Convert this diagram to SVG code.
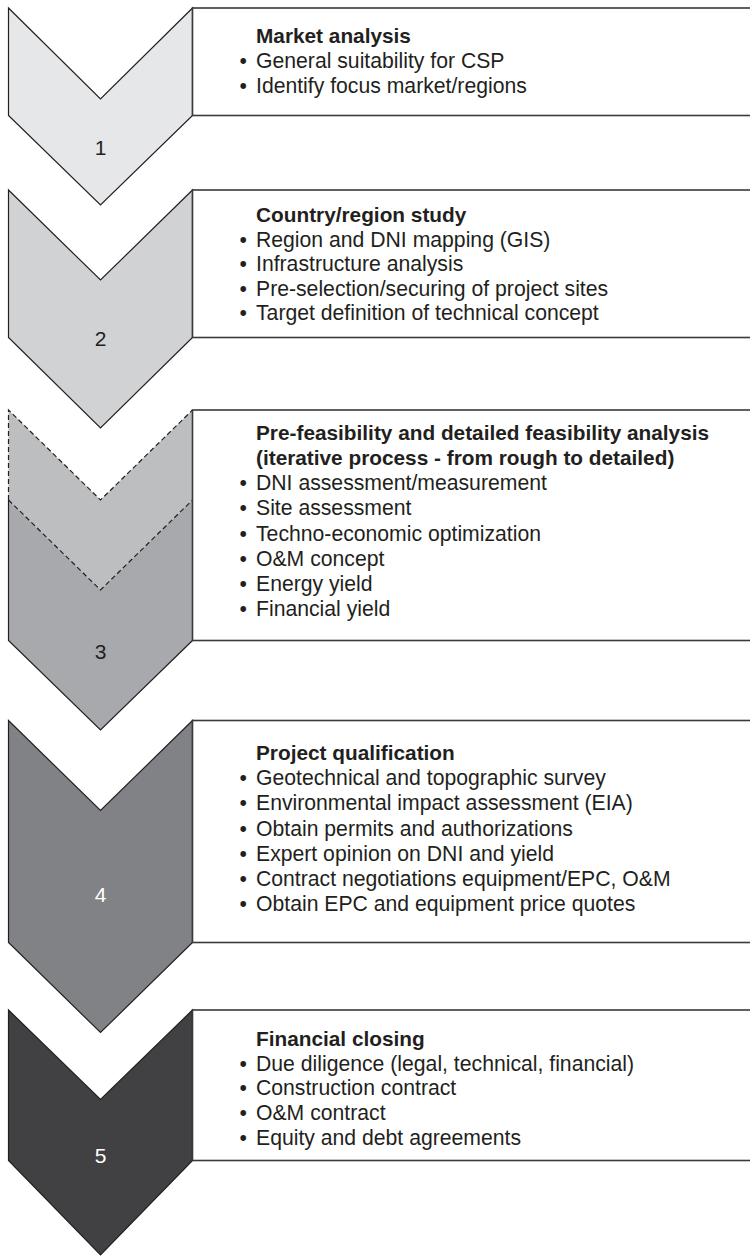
<svg xmlns="http://www.w3.org/2000/svg" width="750" height="1259" viewBox="0 0 750 1259">
<style>
.chev{stroke:#231f20;stroke-width:1.2;stroke-linejoin:miter}
.dash{fill:none;stroke:#231f20;stroke-width:1.2;stroke-dasharray:5,3}
.box{fill:#ffffff;stroke:#3a3a3a;stroke-width:1.6}
.t{font-family:"Liberation Sans",Arial,sans-serif;font-size:21.2px;fill:#231f20}
.h{font-weight:bold;font-size:20.8px}
.num{font-family:"Liberation Sans",Arial,sans-serif;font-size:21px;text-anchor:middle}
</style>
<rect width="750" height="1259" fill="#ffffff"/>
<g id="step1">
<polygon class="chev" fill="#e6e7e8" points="8.5,8 100.5,99 192.5,8 192.5,115.5 100.5,205 8.5,115.5"/>
<rect class="box" x="192.5" y="8" width="570" height="107.5"/>
<text class="num" x="100.5" y="155" fill="#231f20">1</text>
<text class="t h" x="256" y="42.7">Market analysis</text>
<text class="t" x="239.5" y="67.7">•</text><text class="t" x="256" y="67.7">General suitability for CSP</text>
<text class="t" x="239.5" y="92.7">•</text><text class="t" x="256" y="92.7">Identify focus market/regions</text>
</g>
<g id="step2">
<polygon class="chev" fill="#d1d2d4" points="8.5,190 100.5,280 192.5,190 192.5,337.5 100.5,428 8.5,337.5"/>
<rect class="box" x="192.5" y="190" width="570" height="147.5"/>
<text class="num" x="100.5" y="346" fill="#231f20">2</text>
<text class="t h" x="256" y="222">Country/region study</text>
<text class="t" x="239.5" y="246.5">•</text><text class="t" x="256" y="246.5">Region and DNI mapping (GIS)</text>
<text class="t" x="239.5" y="271">•</text><text class="t" x="256" y="271">Infrastructure analysis</text>
<text class="t" x="239.5" y="295.5">•</text><text class="t" x="256" y="295.5">Pre-selection/securing of project sites</text>
<text class="t" x="239.5" y="320">•</text><text class="t" x="256" y="320">Target definition of technical concept</text>
</g>
<g id="step3">
<polygon fill="#bcbec0" points="8.5,410 100.5,500 192.5,410 192.5,500 100.5,590 8.5,500"/>
<polygon fill="#a7a9ac" points="8.5,500 100.5,590 192.5,500 192.5,640.5 100.5,730 8.5,640.5"/>
<polyline class="dash" points="8.5,500 8.5,410 100.5,500 192.5,410"/>
<polyline class="dash" points="8.5,500 100.5,590 192.5,500"/>
<polyline fill="none" stroke="#231f20" stroke-width="1.2" points="8.5,500 8.5,640.5 100.5,730 192.5,640.5"/>
<rect class="box" x="192.5" y="410" width="570" height="230.5"/>
<text class="num" x="100.5" y="658.5" fill="#231f20">3</text>
<text class="t h" x="256" y="440">Pre-feasibility and detailed feasibility analysis</text>
<text class="t h" x="256" y="465">(iterative process - from rough to detailed)</text>
<text class="t" x="239.5" y="490.2">•</text><text class="t" x="256" y="490.2">DNI assessment/measurement</text>
<text class="t" x="239.5" y="515.4">•</text><text class="t" x="256" y="515.4">Site assessment</text>
<text class="t" x="239.5" y="540.6">•</text><text class="t" x="256" y="540.6">Techno-economic optimization</text>
<text class="t" x="239.5" y="565.8">•</text><text class="t" x="256" y="565.8">O&amp;M concept</text>
<text class="t" x="239.5" y="591">•</text><text class="t" x="256" y="591">Energy yield</text>
<text class="t" x="239.5" y="616.2">•</text><text class="t" x="256" y="616.2">Financial yield</text>
</g>
<g id="step4">
<polygon class="chev" fill="#808285" points="8.5,720.5 100.5,810.5 192.5,720.5 192.5,942.5 100.5,1032.5 8.5,942.5"/>
<rect class="box" x="192.5" y="720.5" width="570" height="222"/>
<text class="num" x="100.5" y="902" fill="#ffffff">4</text>
<text class="t h" x="256" y="760">Project qualification</text>
<text class="t" x="239.5" y="785.2">•</text><text class="t" x="256" y="785.2">Geotechnical and topographic survey</text>
<text class="t" x="239.5" y="810.4">•</text><text class="t" x="256" y="810.4">Environmental impact assessment (EIA)</text>
<text class="t" x="239.5" y="835.6">•</text><text class="t" x="256" y="835.6">Obtain permits and authorizations</text>
<text class="t" x="239.5" y="860.8">•</text><text class="t" x="256" y="860.8">Expert opinion on DNI and yield</text>
<text class="t" x="239.5" y="886">•</text><text class="t" x="256" y="886">Contract negotiations equipment/EPC, O&amp;M</text>
<text class="t" x="239.5" y="911.2">•</text><text class="t" x="256" y="911.2">Obtain EPC and equipment price quotes</text>
</g>
<g id="step5">
<polygon class="chev" fill="#414042" points="8.5,1010 100.5,1099.5 192.5,1010 192.5,1160.5 100.5,1255 8.5,1160.5"/>
<rect class="box" x="192.5" y="1010" width="570" height="150.5"/>
<text class="num" x="100.5" y="1163" fill="#ffffff">5</text>
<text class="t h" x="256" y="1046">Financial closing</text>
<text class="t" x="239.5" y="1070.7">•</text><text class="t" x="256" y="1070.7">Due diligence (legal, technical, financial)</text>
<text class="t" x="239.5" y="1095">•</text><text class="t" x="256" y="1095">Construction contract</text>
<text class="t" x="239.5" y="1120">•</text><text class="t" x="256" y="1120">O&amp;M contract</text>
<text class="t" x="239.5" y="1144.5">•</text><text class="t" x="256" y="1144.5">Equity and debt agreements</text>
</g>
<g id="connectors"></g>
</svg>
